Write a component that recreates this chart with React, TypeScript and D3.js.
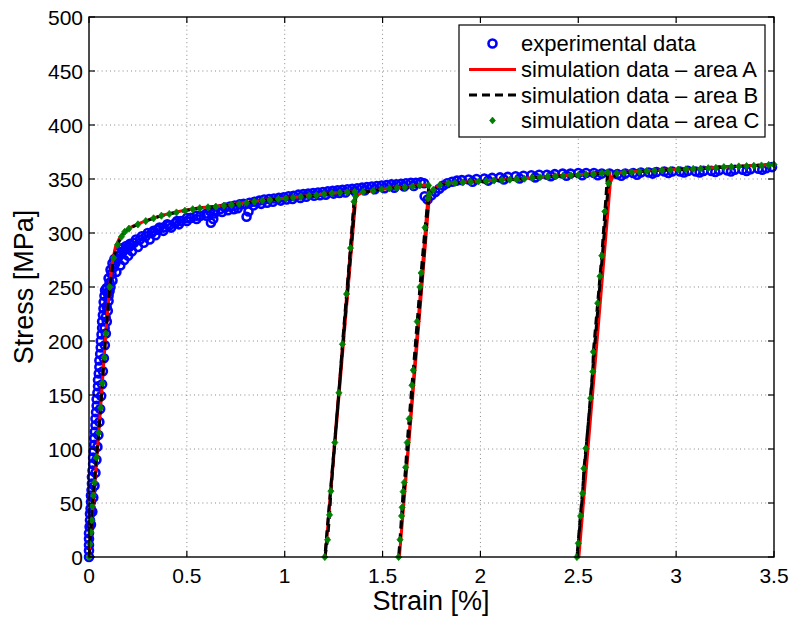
import React from "react";
import * as d3 from "d3";

const W = 791;
const H = 617;
const M = { left: 89, right: 774, top: 17, bottom: 557 };

const xTicks = [0, 0.5, 1, 1.5, 2, 2.5, 3, 3.5];
const yTicks = [0, 50, 100, 150, 200, 250, 300, 350, 400, 450, 500];
const xLabel = "Strain [%]";
const yLabel = "Stress [MPa]";
const legendLabels = [
  "experimental data",
  "simulation data \u2013 area A",
  "simulation data \u2013 area B",
  "simulation data \u2013 area C",
];

// experimental data [strain %, stress MPa]
const expElasticA: [number, number][] = [
  [0, 0], [0, 6], [0, 11], [0, 17], [0, 22], [0.003, 28], [0.005, 34], [0.005, 40], [0.008, 45],
  [0.01, 51], [0.01, 57], [0.013, 62], [0.015, 68], [0.015, 74], [0.018, 80], [0.021, 86],
  [0.021, 92], [0.024, 98], [0.027, 104], [0.027, 110], [0.03, 116], [0.033, 122], [0.033, 128],
  [0.036, 134], [0.039, 140], [0.039, 146], [0.043, 152], [0.046, 158], [0.046, 164], [0.05, 170],
  [0.053, 176], [0.053, 182], [0.057, 188], [0.06, 194], [0.06, 200], [0.064, 206], [0.067, 212],
  [0.067, 218], [0.071, 224], [0.074, 230], [0.075, 236], [0.079, 242], [0.082, 247],
];
const expElasticB: [number, number][] = [
  [0.01, 30], [0.017, 42], [0.022, 55], [0.028, 66], [0.033, 78], [0.038, 90], [0.043, 102],
  [0.048, 113], [0.053, 125], [0.057, 137], [0.062, 149], [0.067, 160], [0.071, 172], [0.076, 184],
  [0.081, 196], [0.086, 207], [0.091, 218], [0.096, 228], [0.1, 237], [0.105, 246],
];
const expKneeUpper: [number, number][] = [
  [0.09, 249], [0.1, 258], [0.11, 266], [0.12, 272], [0.13, 276], [0.15, 282], [0.17, 286],
  [0.19, 288], [0.21, 290], [0.24, 294], [0.27, 297], [0.3, 300], [0.33, 302], [0.36, 305],
  [0.4, 308], [0.45, 311], [0.5, 314], [0.55, 316], [0.6, 318],
];
const expKneeLower: [number, number][] = [
  [0.08, 212], [0.085, 222], [0.09, 232], [0.1, 242], [0.11, 250], [0.12, 256], [0.14, 264],
  [0.16, 270], [0.18, 275], [0.2, 279], [0.22, 283], [0.25, 287], [0.28, 291], [0.31, 294],
  [0.34, 298], [0.38, 302], [0.42, 305], [0.46, 308], [0.5, 311], [0.55, 313], [0.6, 316],
];
const expKneeMid: [number, number][] = [
  [0.095, 245], [0.105, 254], [0.115, 262], [0.125, 268], [0.135, 272], [0.145, 276], [0.155, 279],
  [0.165, 281], [0.175, 283], [0.185, 285], [0.195, 286], [0.205, 287], [0.215, 289], [0.23, 291],
  [0.26, 294], [0.29, 297], [0.32, 300], [0.35, 303], [0.38, 305], [0.41, 307], [0.44, 309],
  [0.47, 311], [0.52, 314], [0.57, 316],
];
const expPlastic: [number, number][] = [
  [0.62, 320], [0.623, 309.5], [0.635, 313], [0.645, 321], [0.67, 322], [0.695, 323.5], [0.72, 324.5],
  [0.745, 325.5], [0.77, 326.5], [0.79, 327], [0.805, 315], [0.815, 320], [0.82, 328], [0.845, 329],
  [0.87, 330], [0.895, 331], [0.92, 331.5], [0.945, 332], [0.97, 332.5], [0.995, 333], [1.02, 334],
  [1.045, 334.5], [1.07, 335.5], [1.095, 336], [1.12, 336.5], [1.145, 337], [1.17, 337.5],
  [1.195, 338], [1.22, 338.5], [1.245, 339], [1.27, 339.5], [1.295, 340], [1.32, 340.5],
  [1.345, 341], [1.37, 341.5], [1.395, 342], [1.42, 342.5], [1.445, 343], [1.47, 343.5],
  [1.495, 344], [1.52, 344.5], [1.545, 345], [1.57, 345], [1.595, 345.5], [1.62, 346],
  [1.645, 346.5], [1.67, 346.5], [1.695, 347], [1.712, 346], [1.715, 334], [1.73, 331],
  [1.75, 335], [1.77, 338], [1.79, 341], [1.81, 344], [1.83, 346], [1.855, 347.5], [1.88, 348.5],
  [1.905, 349], [1.94, 349.5], [1.98, 350], [2.02, 350.5], [2.06, 351], [2.1, 351.5], [2.14, 352],
  [2.18, 352.5], [2.22, 353], [2.26, 353.5], [2.3, 354], [2.34, 354], [2.38, 354.5], [2.42, 355],
  [2.46, 355], [2.5, 355.5], [2.54, 355.5], [2.58, 355.5], [2.62, 355], [2.66, 355], [2.7, 354.5],
  [2.74, 355], [2.78, 355.5], [2.82, 356], [2.86, 356], [2.9, 356.5], [2.94, 357], [2.98, 357],
  [3.02, 357], [3.06, 357.5], [3.1, 357], [3.14, 357.5], [3.18, 357.5], [3.22, 358], [3.26, 358],
  [3.3, 358.5], [3.34, 358.5], [3.38, 359], [3.42, 359.5], [3.46, 360], [3.49, 361],
];
const expPlasticLower: [number, number][] = [
  [0.64, 318], [0.68, 319.5], [0.71, 321], [0.74, 322], [0.76, 323], [0.84, 325.5], [0.88, 327],
  [0.91, 328], [0.94, 329], [0.98, 330], [1.01, 331], [1.04, 331.5], [1.08, 332.5], [1.11, 333.5],
  [1.15, 334.5], [1.18, 335], [1.21, 335.5], [1.25, 336.5], [1.28, 337], [1.31, 337.5], [1.36, 338.5],
  [1.41, 339.5], [1.46, 340.5], [1.51, 341.5], [1.56, 342], [1.61, 343], [1.66, 343.5],
  [1.96, 347.5], [2.04, 348.5], [2.12, 349.5], [2.2, 350.5], [2.28, 351.5], [2.36, 352.5],
  [2.44, 353], [2.52, 353.5], [2.6, 353.5], [2.72, 353], [2.8, 354], [2.88, 355], [2.96, 355.5],
  [3.04, 356], [3.12, 356], [3.2, 356.5], [3.28, 357], [3.36, 357.5], [3.44, 358.5],
];

// simulation, area B / C (same path; C markers)
const simCPoints: [number, number][] = [
  [0, 0], [0.005, 12], [0.01, 23], [0.014, 34], [0.017, 47], [0.022, 57], [0.028, 69], [0.038, 92],
  [0.05, 115], [0.06, 138], [0.068, 161], [0.078, 185], [0.086, 207], [0.106, 250], [0.126, 277],
  [0.145, 289], [0.166, 296.6], [0.182, 301], [0.204, 304], [0.25, 308], [0.29, 311], [0.33, 313.6],
  [0.37, 316], [0.41, 317.6], [0.447, 319], [0.49, 320.6], [0.53, 322], [0.566, 323], [0.608, 323.8],
  [0.648, 324.4], [0.689, 325.3], [0.728, 326], [0.767, 326.8], [0.805, 328], [0.845, 329],
  [0.886, 330], [0.924, 330.6], [0.967, 331.5], [1.006, 332], [1.043, 332.7], [1.082, 333.6],
  [1.125, 334.5], [1.162, 335], [1.201, 336], [1.241, 336.7], [1.282, 337.3], [1.319, 337.7],
  [1.358, 338],
  [1.354, 329], [1.336, 286], [1.316, 243.5], [1.295, 197], [1.277, 152], [1.256, 106], [1.236, 61],
  [1.229, 39], [1.219, 16], [1.205, 0],
  [1.362, 334], [1.4, 338], [1.452, 339], [1.495, 340.4], [1.535, 341.4], [1.574, 341.8],
  [1.614, 342.3], [1.653, 343], [1.69, 344], [1.735, 344],
  [1.733, 332], [1.717, 305], [1.697, 263], [1.691, 250], [1.677, 218], [1.657, 173], [1.65, 159],
  [1.636, 128], [1.626, 106], [1.618, 83], [1.611, 69], [1.605, 60.5], [1.6, 46], [1.597, 38],
  [1.589, 16], [1.582, 0],
  [1.738, 336], [1.759, 340], [1.793, 344.4], [1.835, 346], [1.87, 346.3], [1.91, 346.8],
  [1.95, 347.2], [1.99, 347.7], [2.03, 348.1], [2.07, 348.6], [2.11, 349], [2.15, 349.4],
  [2.185, 349.7], [2.225, 350.3], [2.265, 351], [2.304, 351.6], [2.344, 352.1], [2.384, 352.5],
  [2.423, 353], [2.462, 353.4], [2.5, 353.7], [2.54, 354.2], [2.577, 354.6], [2.62, 355.3],
  [2.65, 356],
  [2.636, 320], [2.62, 279], [2.611, 260], [2.599, 235], [2.577, 190], [2.574, 171.6], [2.563, 147],
  [2.539, 100.6], [2.529, 82], [2.522, 59], [2.512, 38], [2.5, 12.7], [2.493, 0],
  [2.654, 346], [2.697, 355.3], [2.734, 355.8], [2.773, 356.5], [2.812, 356.8], [2.85, 357.4],
  [2.889, 357.7], [2.928, 358], [2.97, 358.3], [3.01, 358.6], [3.05, 359], [3.087, 359.3],
  [3.125, 359.6], [3.164, 360], [3.203, 360.3], [3.244, 361], [3.282, 361.3], [3.32, 361.6],
  [3.36, 361.9], [3.397, 362.2], [3.436, 362.5], [3.473, 363], [3.5, 363.3],
];

// simulation, area A (line knots)
const simAPoints: [number, number][] = [
  [0, 0], [0.05, 115], [0.086, 207], [0.106, 251], [0.12, 274], [0.135, 287], [0.155, 295],
  [0.18, 301], [0.204, 304.5], [0.25, 308.5], [0.33, 314], [0.41, 318], [0.49, 321], [0.566, 323.3],
  [0.648, 324.7], [0.728, 326.3], [0.805, 328.3], [0.886, 330.2], [0.967, 331.7], [1.043, 332.9],
  [1.125, 334.7], [1.201, 336.2], [1.282, 337.5], [1.36, 338.2], [1.207, 0], [1.364, 334],
  [1.4, 338.2], [1.452, 339.2], [1.535, 341.5], [1.614, 342.5], [1.69, 344.2], [1.737, 344.5],
  [1.586, 0], [1.74, 336], [1.759, 340.2], [1.793, 344.6], [1.835, 346.2], [1.95, 347.4],
  [2.07, 348.8], [2.185, 349.9], [2.304, 351.8], [2.423, 353.2], [2.5, 353.9], [2.577, 354.8],
  [2.62, 355.5], [2.662, 356.3], [2.503, 0], [2.664, 347], [2.68, 353], [2.697, 355.5],
  [2.85, 357.6], [3.01, 358.8], [3.164, 360.2], [3.32, 361.8], [3.5, 363.5],
];

const FONT = "'Liberation Sans', Arial, Helvetica, sans-serif";

export default function App() {
  const x = d3.scaleLinear().domain([0, 3.5]).range([M.left, M.right]);
  const y = d3.scaleLinear().domain([0, 500]).range([M.bottom, M.top]);
  const line = d3
    .line<[number, number]>()
    .x((d) => x(d[0]))
    .y((d) => y(d[1]));

  const expAll = [
    ...expElasticA,
    ...expElasticB,
    ...expKneeLower,
    ...expKneeMid,
    ...expKneeUpper,
    ...expPlasticLower,
    ...expPlastic,
  ];
  const diamond = (cx: number, cy: number, s = 3.6) =>
    `M${cx},${cy - s}L${cx + s * 0.85},${cy}L${cx},${cy + s}L${cx - s * 0.85},${cy}Z`;

  const tickLen = 6;
  const legend = { x0: 459, y0: 25, x1: 765, y1: 137 };
  const rowY = [43.5, 69.5, 95, 120.5];
  const sampleX0 = 469;
  const sampleX1 = 516;
  const textX = 521;

  return (
    <svg
      width={W}
      height={H}
      style={{ position: "absolute", left: 0, top: 0, background: "#fff" }}
      fontFamily={FONT}
    >
      <rect x={0} y={0} width={W} height={H} fill="#fff" />
      {/* grid */}
      <g stroke="#8a8a8a" strokeWidth={1} strokeDasharray="1 3.2">
        {xTicks.slice(1, -1).map((t) => (
          <line key={"gx" + t} x1={x(t)} x2={x(t)} y1={M.top} y2={M.bottom} />
        ))}
        {yTicks.slice(1, -1).map((t) => (
          <line key={"gy" + t} x1={M.left} x2={M.right} y1={y(t)} y2={y(t)} />
        ))}
      </g>
      {/* experimental */}
      <g fill="none" stroke="#0000ff" strokeWidth={2.6}>
        {expAll.map((d, i) => (
          <circle key={"e" + i} cx={x(d[0])} cy={y(d[1])} r={4} />
        ))}
      </g>
      {/* sim A */}
      <path d={line(simAPoints) || ""} fill="none" stroke="#ff0000" strokeWidth={3} strokeLinejoin="round" />
      {/* sim B */}
      <path
        d={line(simCPoints) || ""}
        fill="none"
        stroke="#000"
        strokeWidth={3}
        strokeDasharray="8 5"
      />
      {/* sim C markers */}
      <g fill="#008000" stroke="#008000" strokeWidth={0.8}>
        {simCPoints.map((d, i) => (
          <path key={"c" + i} d={diamond(x(d[0]), y(d[1]))} />
        ))}
      </g>
      {/* axes box */}
      <rect
        x={M.left}
        y={M.top}
        width={M.right - M.left}
        height={M.bottom - M.top}
        fill="none"
        stroke="#000"
        strokeWidth={1.4}
      />
      <g stroke="#000" strokeWidth={1.2}>
        {xTicks.map((t) => (
          <g key={"tx" + t}>
            <line x1={x(t)} x2={x(t)} y1={M.bottom} y2={M.bottom - tickLen} />
            <line x1={x(t)} x2={x(t)} y1={M.top} y2={M.top + tickLen} />
          </g>
        ))}
        {yTicks.map((t) => (
          <g key={"ty" + t}>
            <line x1={M.left} x2={M.left + tickLen} y1={y(t)} y2={y(t)} />
            <line x1={M.right} x2={M.right - tickLen} y1={y(t)} y2={y(t)} />
          </g>
        ))}
      </g>
      {/* tick labels */}
      <g fontSize={21} fill="#000">
        {xTicks.map((t) => (
          <text key={"lx" + t} x={x(t)} y={583} textAnchor="middle">
            {String(t)}
          </text>
        ))}
        {yTicks.map((t) => (
          <text key={"ly" + t} x={M.left - 6} y={y(t) + 7.5} textAnchor="end">
            {String(t)}
          </text>
        ))}
      </g>
      {/* axis labels */}
      <text x={431} y={610} fontSize={27} textAnchor="middle" fill="#000">
        {xLabel}
      </text>
      <text
        x={0}
        y={0}
        fontSize={27}
        textAnchor="middle"
        fill="#000"
        transform={`translate(33,287) rotate(-90)`}
      >
        {yLabel}
      </text>
      {/* legend */}
      <rect
        x={legend.x0}
        y={legend.y0}
        width={legend.x1 - legend.x0}
        height={legend.y1 - legend.y0}
        fill="#fff"
        stroke="#000"
        strokeWidth={1.2}
      />
      <circle cx={(sampleX0 + sampleX1) / 2} cy={rowY[0]} r={4} fill="none" stroke="#0000ff" strokeWidth={2.6} />
      <line x1={sampleX0} x2={sampleX1} y1={rowY[1]} y2={rowY[1]} stroke="#ff0000" strokeWidth={3} />
      <line
        x1={sampleX0}
        x2={sampleX1}
        y1={rowY[2]}
        y2={rowY[2]}
        stroke="#000"
        strokeWidth={3}
        strokeDasharray="8 5"
      />
      <path d={diamond((sampleX0 + sampleX1) / 2, rowY[3], 3.4)} fill="#008000" stroke="#008000" strokeWidth={0.8} />
      <g fontSize={22} fill="#000">
        {legendLabels.map((l, i) => (
          <text key={"lg" + i} x={textX} y={rowY[i] + 7.8}>
            {l}
          </text>
        ))}
      </g>
    </svg>
  );
}
